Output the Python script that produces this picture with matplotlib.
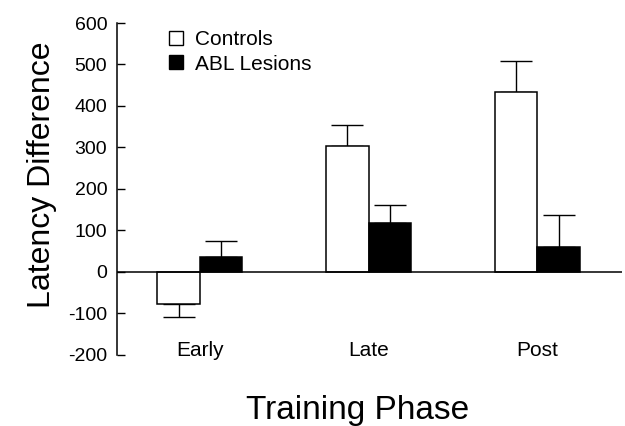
import numpy as np
import matplotlib.pyplot as plt
from matplotlib.patches import Patch

# values
phases = ["Early", "Late", "Post"]
controls = [-77, 303, 433]
controls_err = [32, 51, 75]
abl = [36, 119, 60]
abl_err = [39, 43, 76]

plt.rcParams['font.family'] = ['Liberation Sans', 'DejaVu Sans']
plt.rcParams['axes.unicode_minus'] = False


def one_sided(vals, errs):
    # error bar drawn only away from zero
    lo = [e if v < 0 else 0 for v, e in zip(vals, errs)]
    hi = [0 if v < 0 else e for v, e in zip(vals, errs)]
    return [lo, hi]


fig = plt.figure(figsize=(6.25, 4.26), dpi=100)
ax = fig.add_axes([0.187, 0.167, 0.808, 0.779])

x = np.arange(len(phases))
w = 0.25
ax.bar(x - w/2, controls, w, color='white', edgecolor='black', linewidth=1.1, zorder=3)
ax.bar(x + w/2, abl, w, color='black', edgecolor='black', linewidth=1.1, zorder=3)
ax.errorbar(x - w/2, controls, yerr=one_sided(controls, controls_err), fmt='none',
            ecolor='black', elinewidth=1.0, capsize=11.5, capthick=1.0, zorder=2)
ax.errorbar(x + w/2, abl, yerr=one_sided(abl, abl_err), fmt='none',
            ecolor='black', elinewidth=1.0, capsize=11.5, capthick=1.0, zorder=2)

ax.axhline(0, color='black', linewidth=1.1, zorder=4)

ax.set_xlim(-0.49, 2.5)
ax.set_ylim(-200, 600)
ax.set_yticks(range(-200, 601, 100))
ax.set_xticks(x, phases)
ax.tick_params(axis='y', direction='in', length=6, width=1, labelsize=14, pad=7)
ax.tick_params(axis='x', length=0, pad=-10, labelsize=15)

for s in ['top', 'right', 'bottom']:
    ax.spines[s].set_visible(False)
ax.spines['left'].set_linewidth(1.1)

ax.set_xlabel("Training Phase", fontsize=24)
ax.xaxis.set_label_coords(0.477, -0.12)
ax.set_ylabel("Latency Difference", fontsize=23)
ax.yaxis.set_label_coords(-0.119, 0.542)

handles = [Patch(facecolor='white', edgecolor='black', linewidth=1.0),
           Patch(facecolor='black', edgecolor='black', linewidth=1.0)]
ax.legend(handles, ["Controls", "ABL Lesions"], loc='upper left',
          bbox_to_anchor=(0.103, 0.978), frameon=False, fontsize=15,
          handlelength=0.68, handleheight=0.68, handletextpad=0.55,
          labelspacing=0.25, borderpad=0, borderaxespad=0)

fig.savefig("out.png", dpi=100)
